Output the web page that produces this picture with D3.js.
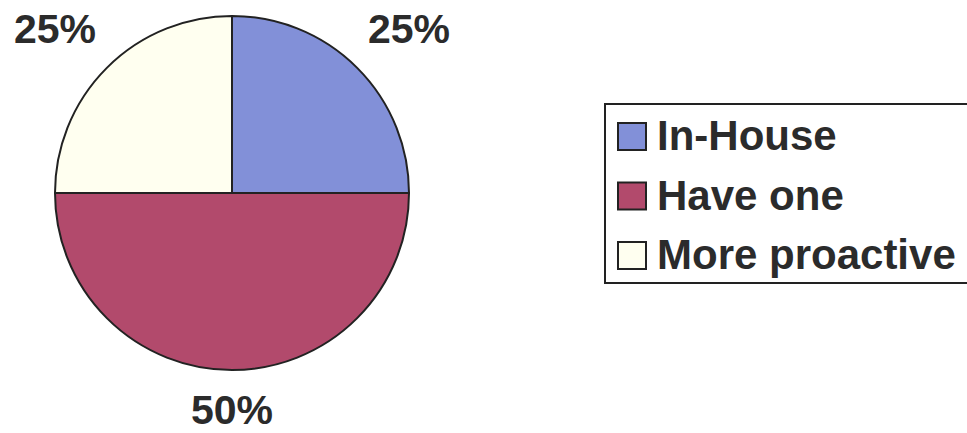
<!DOCTYPE html>
<html>
<head>
<meta charset="utf-8">
<script src="https://cdn.jsdelivr.net/npm/d3@7"></script>
<style>
  body { margin: 0; background: #fff; }
  svg text { font-family: "Liberation Sans", Arial, sans-serif; font-weight: bold; fill: #2b2b2b; }
</style>
</head>
<body>
<div id="chart"></div>
<script>
const categories = ["In-House", "Have one", "More proactive"];
const values = [25, 50, 25];
const colors = ["#8290d8", "#b24a6c", "#fffff0"];

const width = 967;
const height = 433;
const radius = 177;
const cx = 232, cy = 193;

const svg = d3.select("#chart")
  .append("svg")
  .attr("width", width)
  .attr("height", height);

const data = categories.map((c, i) => ({ name: c, value: values[i], color: colors[i] }));

// clockwise from 12 o'clock, no sorting
const pie = d3.pie().sort(null).value(d => d.value);
const arcs = pie(data);
const arc = d3.arc().innerRadius(0).outerRadius(radius);

const g = svg.append("g").attr("transform", `translate(${cx},${cy})`);

g.selectAll("path")
  .data(arcs)
  .enter()
  .append("path")
  .attr("d", arc)
  .attr("fill", d => d.data.color)
  .attr("stroke", "#222")
  .attr("stroke-width", 2)
  .attr("stroke-linejoin", "round");

// percentage labels: quarter slices sit above the pie corners, the half below
svg.selectAll(".pct")
  .data(arcs)
  .enter()
  .append("text")
  .attr("class", "pct")
  .attr("text-anchor", "middle")
  .attr("font-size", 41)
  .attr("x", d => {
    const a = (d.startAngle + d.endAngle) / 2;
    if (d.data.value === 50) return cx;
    return cx + Math.sign(Math.sin(a)) * radius;
  })
  .attr("y", d => {
    if (d.data.value === 50) return cy + radius + 54;
    return cy - radius + 27;
  })
  .text(d => d.data.value + "%");

// legend
const legend = svg.append("g").attr("transform", "translate(605,104)");

legend.append("rect")
  .attr("x", 0)
  .attr("y", 0)
  .attr("width", 380)
  .attr("height", 179)
  .attr("fill", "#fff")
  .attr("stroke", "#222")
  .attr("stroke-width", 2);

const items = legend.selectAll(".item")
  .data(data)
  .enter()
  .append("g")
  .attr("class", "item")
  .attr("transform", (d, i) => `translate(13,${19 + i * 59.5})`);

items.append("rect")
  .attr("width", 28)
  .attr("height", 27)
  .attr("fill", d => d.color)
  .attr("stroke", "#222")
  .attr("stroke-width", 2);

items.append("text")
  .attr("x", 39)
  .attr("y", 27)
  .attr("font-size", 42)
  .text(d => d.name);
</script>
</body>
</html>
